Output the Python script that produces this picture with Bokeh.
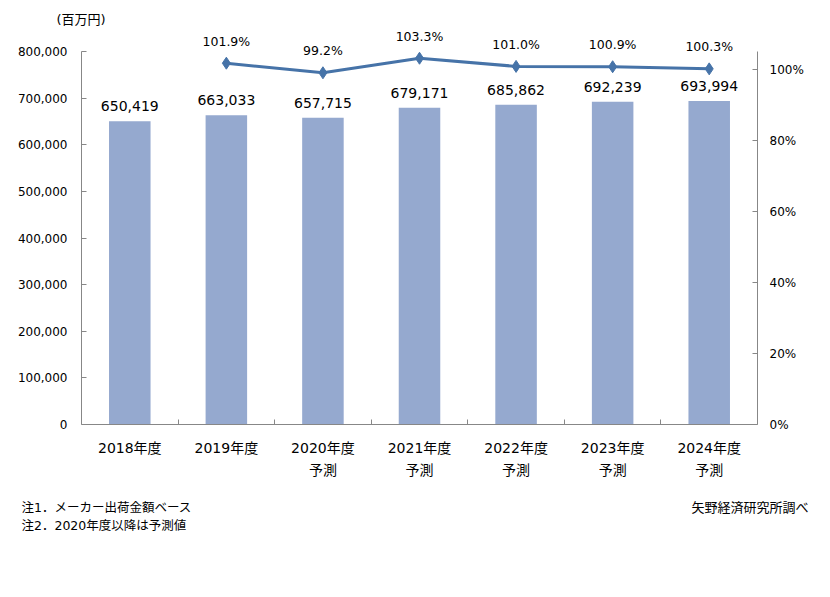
from bokeh.plotting import figure
from bokeh.models import Range1d, LinearAxis, FixedTicker, NumeralTickFormatter, Label
from bokeh.core.properties import value
from bokeh.embed import file_html
from bokeh.resources import INLINE

years = ["2018年度", "2019年度", "2020年度", "2021年度", "2022年度", "2023年度", "2024年度"]
sub_labels = ["", "", "予測", "予測", "予測", "予測", "予測"]
sales = [650419, 663033, 657715, 679171, 685862, 692239, 693994]
growth_idx = [1, 2, 3, 4, 5, 6]
growth = [101.9, 99.2, 103.3, 101.0, 100.9, 100.3]
left_ticks = [0, 100000, 200000, 300000, 400000, 500000, 600000, 700000, 800000]
right_ticks = [0, 0.2, 0.4, 0.6, 0.8, 1.0]
LEFT_MAX = 800000
RIGHT_MAX = 1.052

FONT = "'DejaVu Sans', 'Noto Sans CJK JP'"
BAR = "#95A9CF"
LINE = "#4673A8"
AX = "#878787"

W, H = 830, 597
# plot area in pixels (layout)
PX_L, PX_R, PX_TOP, PX_BOT = 81, 757, 51, 424

idx = list(range(len(years)))
n = len(years)
step = (PX_R - PX_L) / n
x_start = -0.5 - PX_L / step
x_end = n - 0.5 + (W - PX_R) / step
ppu = (PX_BOT - PX_TOP) / LEFT_MAX
y_start = -(H - PX_BOT) / ppu
y_end = PX_BOT / ppu
ppu2 = (PX_BOT - PX_TOP) / RIGHT_MAX
r_start = -(H - PX_BOT) / ppu2
r_end = PX_BOT / ppu2

p = figure(width=W, height=H, output_backend="svg", toolbar_location=None,
           x_range=Range1d(x_start, x_end), y_range=Range1d(y_start, y_end),
           x_axis_location=None, y_axis_location=None, min_border=0)
p.outline_line_color = None
for g in p.grid:
    g.visible = False
p.background_fill_color = "white"
p.border_fill_color = "white"
p.extra_y_ranges = {"pct": Range1d(r_start, r_end)}

p.vbar(x=idx, top=sales, width=0.43, fill_color=BAR, line_color=None)

gvals = [g / 100 for g in growth]
p.line(x=growth_idx, y=gvals, y_range_name="pct", line_color=LINE, line_width=3)
p.scatter(x=growth_idx, y=gvals, y_range_name="pct", marker="diamond", size=12,
          fill_color=LINE, line_color=LINE)

p.text(x=idx, y=sales, text=[f"{v:,}" for v in sales], text_align="center",
       text_baseline="middle", y_offset=-15, text_font=value(FONT),
       text_font_size="14px", text_color="black")
p.text(x=growth_idx, y=gvals, y_range_name="pct", text=[f"{g:.1f}%" for g in growth],
       text_align="center", text_baseline="middle", y_offset=-22,
       text_font=value(FONT), text_font_size="12.5px", text_color="black")


def style_axis(ax, size="12px"):
    ax.axis_line_color = AX
    ax.major_tick_line_color = AX
    ax.major_tick_in = 5
    ax.major_tick_out = 0
    ax.minor_tick_line_color = None
    ax.major_label_text_font = FONT
    ax.major_label_text_font_size = size
    ax.major_label_text_color = "black"


ya = LinearAxis(fixed_location=-0.5, bounds=(0, LEFT_MAX), ticker=FixedTicker(ticks=left_ticks),
                formatter=NumeralTickFormatter(format="0,0"))
style_axis(ya)
ya.major_label_standoff = 14
p.add_layout(ya, "left")

ra = LinearAxis(y_range_name="pct", fixed_location=n - 0.5, bounds=(0, RIGHT_MAX),
                ticker=FixedTicker(ticks=right_ticks), formatter=NumeralTickFormatter(format="0%"))
style_axis(ra)
ra.major_label_standoff = 12
p.add_layout(ra, "right")

xa = LinearAxis(fixed_location=0, bounds=(-0.5, n - 0.5),
                ticker=FixedTicker(ticks=idx, minor_ticks=[i + 0.5 for i in idx[:-1]]))
style_axis(xa, "14px")
xa.major_label_overrides = {i: years[i] for i in idx}
xa.major_tick_line_color = None
xa.minor_tick_line_color = AX
xa.minor_tick_in = 5
xa.minor_tick_out = 0
xa.major_label_standoff = 15
p.add_layout(xa, "below")

sub_idx = [i for i in idx if sub_labels[i]]
xa2 = LinearAxis(fixed_location=0, ticker=FixedTicker(ticks=sub_idx))
style_axis(xa2, "14px")
xa2.major_label_overrides = {i: sub_labels[i] for i in sub_idx}
xa2.axis_line_color = None
xa2.major_tick_line_color = None
xa2.major_label_standoff = 37
p.add_layout(xa2, "below")

# texts
p.add_layout(Label(x=80.5, y=19, x_units="canvas", y_units="canvas", text="(百万円)",
                   text_align="center", text_baseline="middle", text_font=FONT,
                   text_font_size="13px", text_color="black"))
p.add_layout(Label(x=21, y=507, x_units="canvas", y_units="canvas",
                   text="注1．メーカー出荷金額ベース", text_align="left", text_baseline="middle",
                   text_font=FONT, text_font_size="12.5px", text_color="black"))
p.add_layout(Label(x=21, y=525, x_units="canvas", y_units="canvas",
                   text="注2．2020年度以降は予測値", text_align="left", text_baseline="middle",
                   text_font=FONT, text_font_size="12.5px", text_color="black"))
p.add_layout(Label(x=808, y=507, x_units="canvas", y_units="canvas",
                   text="矢野経済研究所調べ", text_align="right", text_baseline="middle",
                   text_font=FONT, text_font_size="13px", text_color="black"))

open("out.html", "w").write(file_html(p, INLINE))
